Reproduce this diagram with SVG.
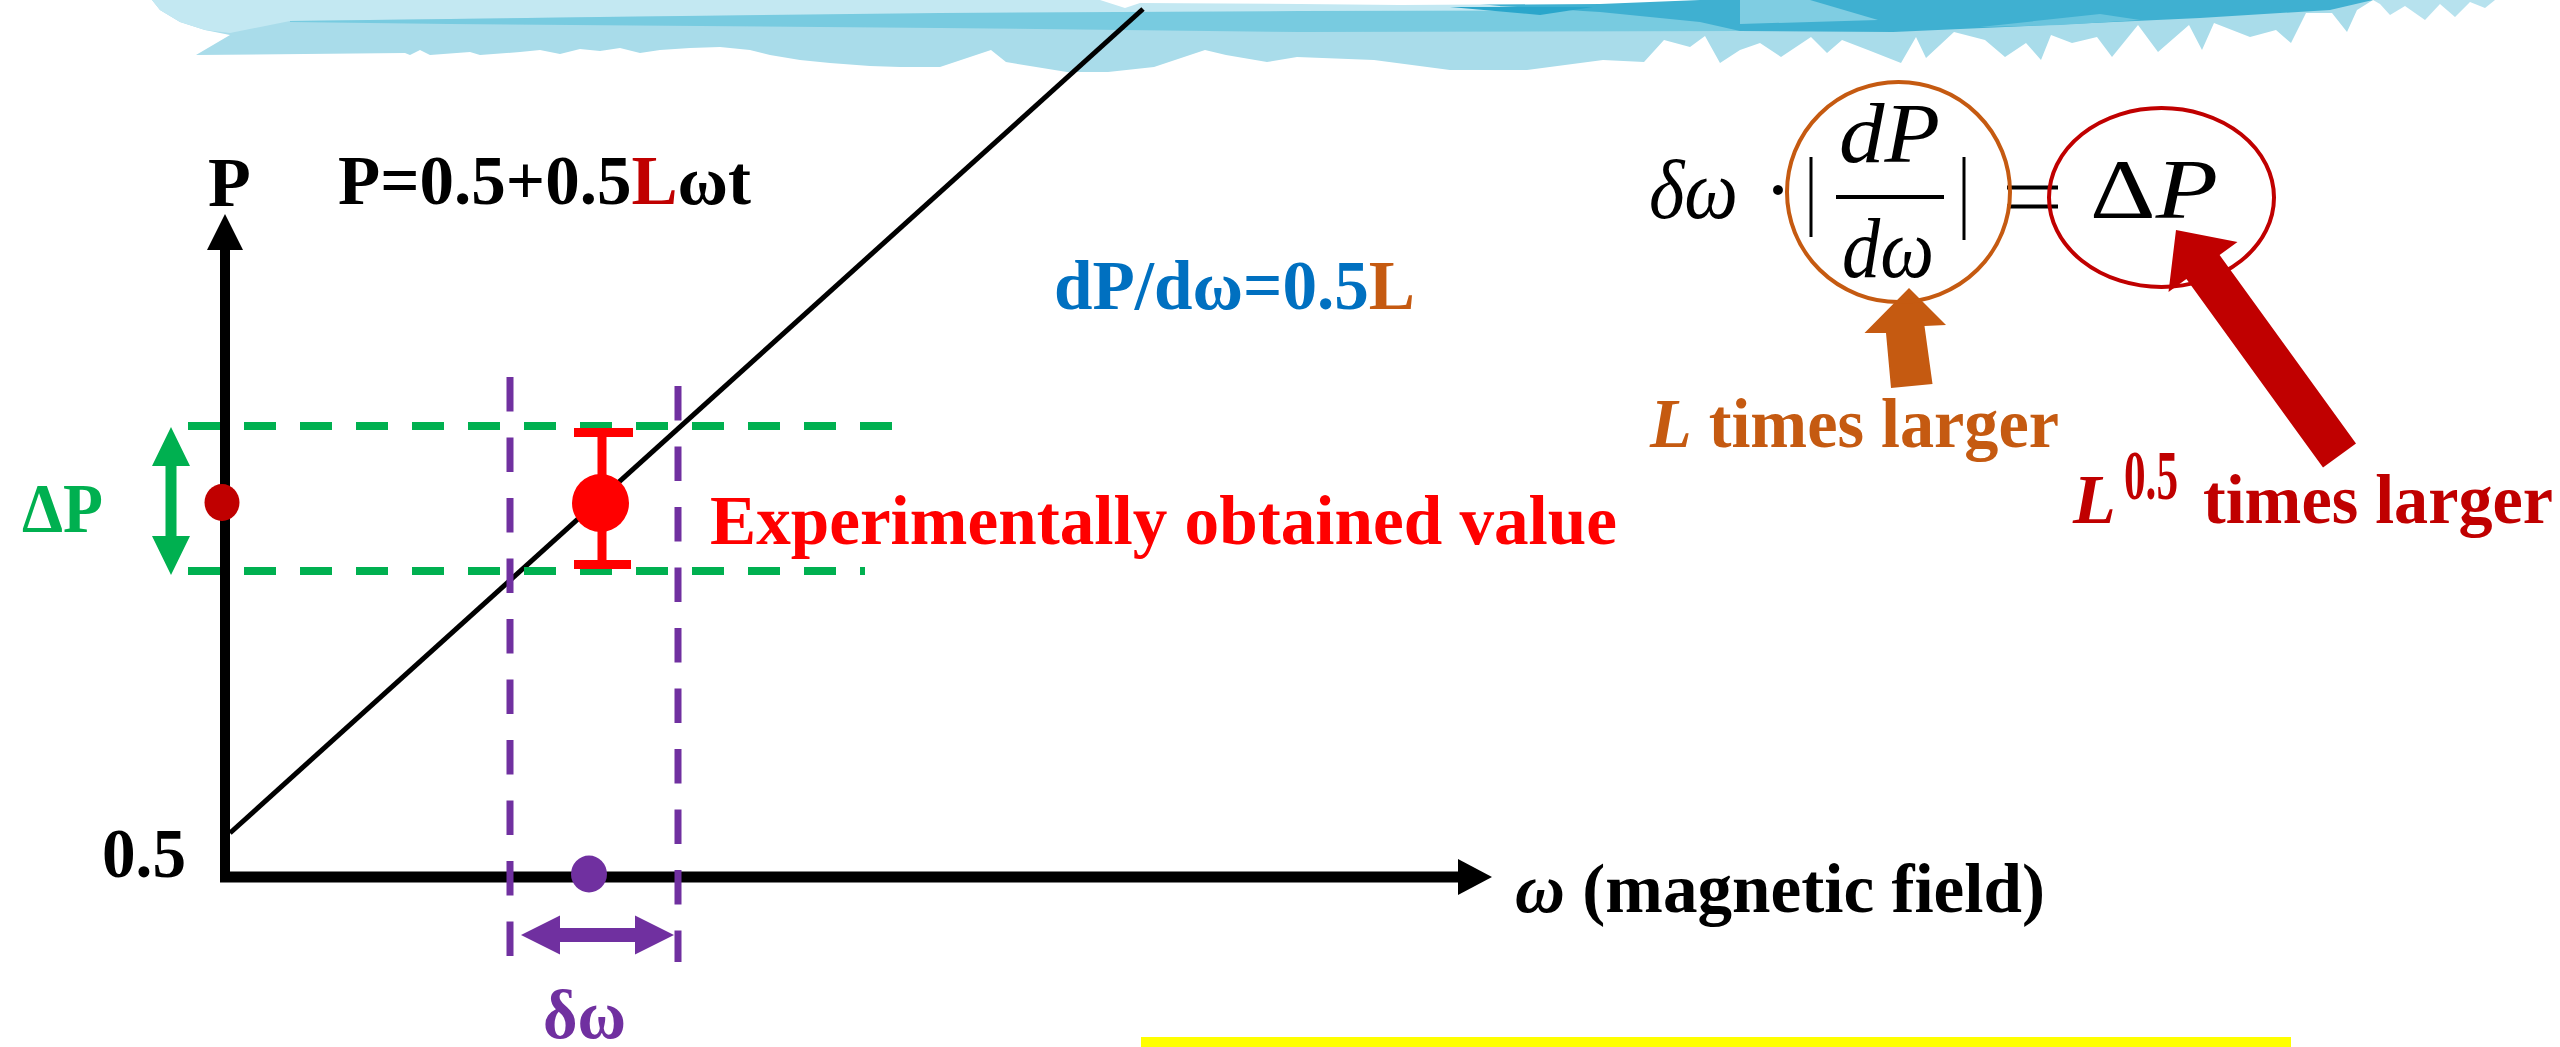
<svg xmlns="http://www.w3.org/2000/svg" width="2560" height="1047" viewBox="0 0 2560 1047">
<style>
.t{font-family:"Liberation Serif","Times New Roman",serif;font-weight:bold;font-size:70px}
.m{font-family:"Liberation Serif","Times New Roman",serif;font-style:italic;font-size:84px;fill:#000}
.mu{font-family:"Liberation Serif","Times New Roman",serif;font-style:normal;font-size:84px;fill:#000}
.gd{stroke:#00B050;stroke-width:8;stroke-dasharray:32 24;fill:none}
.pd{stroke:#7030A0;stroke-width:7;stroke-dasharray:34.5 26;fill:none}
</style>
<rect width="2560" height="1047" fill="#ffffff"/>
<g id="banner">
<path fill="#A9DCEA" d="M152,0 L2373,0 L2357,10 L2347,32 L2332,13 L2306,13 L2291,43 L2276,30 L2250,37 L2214,23 L2202,50 L2189,25 L2158,52 L2138,25 L2112,57 L2097,37 L2072,43 L2051,35 L2041,60 L2026,43 L2005,57 L1985,40 L1954,32 L1926,58 L1916,37 L1901,63 L1868,50 L1842,40 L1827,53 L1811,37 L1781,57 L1760,43 L1740,50 L1720,63 L1705,36 L1690,47 L1664,40 L1644,62 L1603,60 L1527,70 L1450,70 L1374,60 L1297,57 L1267,62 L1226,55 L1205,50 L1154,67 L1108,72 L1067,72 L1006,62 L991,50 L940,67 L900,67 L870,66 L830,63 L800,60 L770,55 L750,50 L720,47 L690,48 L660,50 L640,53 L620,48 L600,51 L580,49 L560,54 L540,50 L520,52 L480,55 L470,52 L430,55 L420,50 L410,55 L405,53 L196,55 L230,35 L205,30 L180,22 L160,10 Z"/>
<path fill="#C3E8F2" d="M152,0 L1500,0 L1500,12 L940,14 L600,17 L290,21 L230,33 L205,30 L180,22 L160,10 Z"/>
<path fill="#78CBE0" d="M290,21 L600,17 L940,13 L1300,11 L1740,10 L1740,31 L1300,32 L940,28 L700,26 L450,24 L290,22 Z"/>
<path fill="#3FB0D1" d="M1440,0 L2373,0 L2330,10 L2200,18 L2005,27 L1893,32 L1740,31 L1700,22 L1600,12 L1500,6 Z"/>
<path fill="#7FCDE2" d="M1740,0 L1810,0 L1878,20 L1740,24 Z"/>
<path fill="#6AC4DD" d="M1980,27 L2100,14 L2140,20 L2060,25 Z"/>
<path fill="#ffffff" d="M1100,0 L1700,0 L1600,4 L1400,5 L1300,4 L1140,3 L1125,8 Z"/>
<path fill="#2AA6CB" d="M1450,7 L1593,7 L1540,15 Z"/>
<path fill="#B7E2EE" d="M2373,0 L2495,0 L2485,8 L2470,2 L2455,17 L2440,4 L2425,20 L2405,6 L2390,15 L2380,4 Z"/>
</g>
<g id="connectors">
<line x1="225" y1="249" x2="225" y2="882" stroke="#000" stroke-width="10"/>
<polygon points="225,214 243,250 207,250" fill="#000"/>
<line x1="220" y1="877" x2="1460" y2="877" stroke="#000" stroke-width="11"/>
<polygon points="1492,877 1458,859 1458,895" fill="#000"/>
<line x1="230" y1="833" x2="1143" y2="9" stroke="#000" stroke-width="5"/>
<line class="gd" x1="188" y1="426" x2="892" y2="426"/>
<line class="gd" x1="188" y1="571" x2="865" y2="571"/>
<line class="pd" x1="510" y1="377" x2="510" y2="962"/>
<line class="pd" x1="678" y1="386" x2="678" y2="962"/>
<polygon points="171,427 190,466 176.5,466 176.5,536 190,536 171,575 152,536 165.5,536 165.5,466 152,466" fill="#00B050"/>
<polygon points="521,935 560,915.5 560,928 635,928 635,915.5 674,935 635,954.5 635,942 560,942 560,954.5" fill="#7030A0"/>
<polygon points="1909,288 1946,325 1924.5,326 1932.5,384 1891,388 1886,333 1864.5,333" fill="#C55A11"/>
<polygon points="2176,230 2237.5,242 2219.6,255 2356,443.5 2323,467.5 2186.4,279 2168.5,292" fill="#C00000"/>
</g>
<g id="p-axis-dot"><ellipse cx="222" cy="502.5" rx="17.5" ry="18.5" fill="#C00000"/></g>
<g id="omega-dot"><ellipse cx="589" cy="874" rx="18" ry="18.5" fill="#7030A0"/></g>
<g id="experimental-point">
<line x1="602" y1="432" x2="602" y2="565" stroke="#FF0000" stroke-width="9"/>
<rect x="574" y="428" width="59" height="9" fill="#FF0000"/>
<rect x="574" y="560" width="57" height="9" fill="#FF0000"/>
<ellipse cx="600.5" cy="503" rx="28.5" ry="29" fill="#FF0000"/>
</g>
<g id="y-axis-label"><text class="t" x="208" y="206">P</text></g>
<g id="formula"><text class="t" x="338" y="204" textLength="413" lengthAdjust="spacingAndGlyphs">P=0.5+0.5<tspan fill="#C00000">L</tspan>ωt</text></g>
<g id="slope"><text class="t" x="1054" y="309" fill="#0070C0" textLength="361" lengthAdjust="spacingAndGlyphs">dP/dω=0.5<tspan fill="#C55A11">L</tspan></text></g>
<g id="delta-p-label"><text class="t" x="22" y="532" fill="#00B050" textLength="81" lengthAdjust="spacingAndGlyphs">ΔP</text></g>
<g id="experimental-label"><text class="t" x="710" y="544" fill="#FF0000" textLength="907" lengthAdjust="spacingAndGlyphs">Experimentally obtained value</text></g>
<g id="origin-label"><text class="t" x="102" y="877" textLength="84" lengthAdjust="spacingAndGlyphs">0.5</text></g>
<g id="x-axis-label"><text class="t" x="1515" y="912" textLength="530" lengthAdjust="spacingAndGlyphs"><tspan font-style="italic">ω</tspan> (magnetic field)</text></g>
<g id="delta-omega-label"><text class="t" x="543" y="1038" fill="#7030A0" textLength="83" lengthAdjust="spacingAndGlyphs">δω</text></g>
<g id="yellow-bar"><rect x="1141" y="1037" width="1150" height="10" fill="#FFFF00"/></g>
<g id="equation">
<text class="m" x="1649" y="218" textLength="89" lengthAdjust="spacingAndGlyphs">δω</text>
<text class="mu" x="1764" y="218">·</text>
<line x1="1811" y1="157" x2="1811" y2="237" stroke="#000" stroke-width="3"/>
<text class="m" x="1839" y="162" textLength="101" lengthAdjust="spacingAndGlyphs">dP</text>
<line x1="1836" y1="197" x2="1944" y2="197" stroke="#000" stroke-width="4"/>
<text class="m" x="1842" y="277" textLength="92" lengthAdjust="spacingAndGlyphs">dω</text>
<line x1="1964" y1="157" x2="1964" y2="240" stroke="#000" stroke-width="3"/>
<line x1="2007" y1="187.5" x2="2058" y2="187.5" stroke="#000" stroke-width="4"/>
<line x1="2007" y1="206.5" x2="2058" y2="206.5" stroke="#000" stroke-width="4"/>
<text class="m" x="2090" y="218" textLength="128" lengthAdjust="spacingAndGlyphs"><tspan font-style="normal">Δ</tspan>P</text>
<ellipse cx="1898.5" cy="192" rx="111.5" ry="110" fill="none" stroke="#C55A11" stroke-width="4"/>
<ellipse cx="2161.5" cy="197.5" rx="112.5" ry="89.5" fill="none" stroke="#C00000" stroke-width="4"/>
</g>
<g id="l-times-label"><text class="t" x="1650" y="447" fill="#C55A11" textLength="409" lengthAdjust="spacingAndGlyphs"><tspan font-style="italic">L</tspan> times larger</text></g>
<g id="l05-times-label">
<text class="t" x="2073" y="523" fill="#C00000" font-style="italic">L</text>
<text class="t" x="2124" y="499" fill="#C00000" font-size="52" textLength="54" lengthAdjust="spacingAndGlyphs">0.5</text>
<text class="t" x="2203" y="523" fill="#C00000" textLength="350" lengthAdjust="spacingAndGlyphs">times larger</text>
</g>
</svg>
